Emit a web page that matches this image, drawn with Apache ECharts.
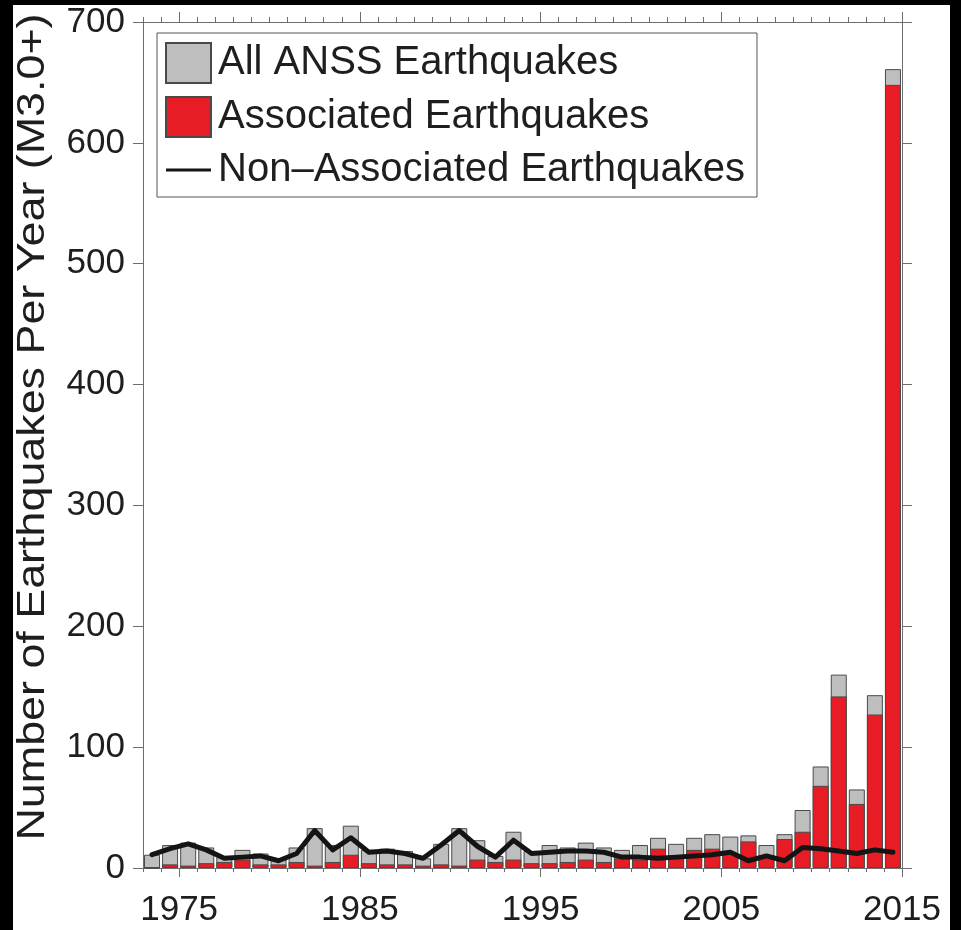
<!DOCTYPE html>
<html>
<head>
<meta charset="utf-8">
<script src="https://cdn.jsdelivr.net/npm/echarts@6/dist/echarts.min.js"></script>
<style>
  html, body { margin: 0; padding: 0; background: #000; }
  #chart { width: 961px; height: 930px; }
</style>
</head>
<body>
<div id="chart"></div>
<script>
// Yearly counts of M3.0+ earthquakes, 1973-2014 (one bar per calendar year)
const years = [1973, 1974, 1975, 1976, 1977, 1978, 1979, 1980, 1981, 1982,
               1983, 1984, 1985, 1986, 1987, 1988, 1989, 1990, 1991, 1992,
               1993, 1994, 1995, 1996, 1997, 1998, 1999, 2000, 2001, 2002,
               2003, 2004, 2005, 2006, 2007, 2008, 2009, 2010, 2011, 2012,
               2013, 2014];
const allEvents = [11, 19, 21, 17, 9, 15, 12, 7, 17, 33,
                   19, 35, 15, 16, 14, 8, 20, 33, 23, 10,
                   30, 14, 19, 17, 21, 17, 15, 19, 25, 20,
                   25, 28, 26, 27, 19, 28, 48, 84, 160, 65,
                   143, 661];
const associated = [0, 3, 2, 4, 5, 7, 3, 3, 5, 2,
                    5, 11, 4, 3, 3, 2, 3, 2, 7, 5,
                    7, 4, 4, 5, 7, 5, 8, 7, 16, 8,
                    15, 16, 12, 22, 10, 24, 30, 68, 142, 53,
                    127, 648];
const nonAssociated = [11, 16, 20, 15, 8, 9, 10, 6, 12, 31,
                       15, 25, 13, 14, 12, 8, 19, 31, 18, 9,
                       23, 12, 13, 14, 14, 13, 9, 9, 8, 9,
                       10, 11, 13, 6, 10, 6, 17, 16, 14, 12,
                       15, 13];
const xLabelYears = [1975, 1985, 1995, 2005, 2015];
const yMin = 0, yMax = 700, yStep = 100;
const xMin = 1973, xMax = 2015;

const FONT = '"Liberation Sans", Arial, Helvetica, sans-serif';
const AXIS_COLOR = '#6e6e6e';
const TEXT_COLOR = '#1e1e1e';
const LINE_COLOR = '#141414';

const chart = echarts.init(document.getElementById('chart'), null, { renderer: 'canvas' });

const gridBox = { left: 143, right: 59, top: 22, bottom: 62 };

// bars sit in the middle of each [year, year+1) bin
const toBin = (vals) => years.map((y, i) => [y + 0.5, vals[i]]);

// legend swatch for the line: a short horizontal stroke inside a 45x40 box
const lineSwatch = 'path://M0,0L45,0L45,0Z M0,18.5L45,18.5L45,21.5L0,21.5Z M0,40L45,40L45,40Z';

const option = {
  backgroundColor: '#000',
  animation: false,
  graphic: [
    { type: 'rect', silent: true, z: -100,
      shape: { x: 13, y: 5, width: 937, height: 925 },
      style: { fill: '#fff' } },
    { type: 'text', silent: true, x: 34, y: 427, rotation: Math.PI / 2, scaleX: 1.18,
      style: { text: 'Number of Earthquakes Per Year (M3.0+)', fontSize: 38,
               fontFamily: FONT, fill: TEXT_COLOR, align: 'center', verticalAlign: 'middle' } }
  ],
  grid: [
    Object.assign({ containLabel: false }, gridBox),
    Object.assign({ containLabel: false }, gridBox)
  ],
  legend: {
    orient: 'vertical',
    left: 157, top: 33,
    padding: [9, 12, 7, 8],
    itemWidth: 45, itemHeight: 40, itemGap: 12,
    backgroundColor: '#fff',
    borderColor: '#555', borderWidth: 1, borderRadius: 0,
    textStyle: { fontSize: 40, color: TEXT_COLOR, fontFamily: FONT, padding: [0, 0, 0, 2] },
    data: [
      { name: 'All ANSS Earthquakes', icon: 'rect' },
      { name: 'Associated Earthquakes', icon: 'rect' },
      { name: 'Non\u2013Associated Earthquakes', icon: lineSwatch,
        itemStyle: { color: LINE_COLOR, borderWidth: 0 } }
    ]
  },
  xAxis: [
    { // bottom: yearly ticks, decade labels
      type: 'value', gridIndex: 0, position: 'bottom', min: xMin, max: xMax, interval: 1,
      axisLine: { show: true, onZero: false, lineStyle: { color: AXIS_COLOR, width: 1 } },
      axisTick: { show: true, length: 4, lineStyle: { color: AXIS_COLOR, width: 1 } },
      axisLabel: { show: true, customValues: xLabelYears, margin: 25, fontSize: 35,
                   color: TEXT_COLOR, fontFamily: FONT, formatter: (v) => String(v) },
      splitLine: { show: false }
    },
    { // top: yearly ticks
      type: 'value', gridIndex: 0, position: 'top', min: xMin, max: xMax, interval: 1,
      axisLine: { show: true, onZero: false, lineStyle: { color: AXIS_COLOR, width: 1 } },
      axisTick: { show: true, length: 5, lineStyle: { color: AXIS_COLOR, width: 1 } },
      axisLabel: { show: false },
      splitLine: { show: false }
    },
    { // bottom: decade ticks
      type: 'value', gridIndex: 1, position: 'bottom', min: xMin, max: xMax,
      axisLine: { show: false, onZero: false },
      axisTick: { show: true, customValues: xLabelYears, length: 9,
                  lineStyle: { color: AXIS_COLOR, width: 1 } },
      axisLabel: { show: false },
      splitLine: { show: false }
    },
    { // top: decade ticks
      type: 'value', gridIndex: 1, position: 'top', min: xMin, max: xMax,
      axisLine: { show: false, onZero: false },
      axisTick: { show: true, customValues: xLabelYears, length: 10,
                  lineStyle: { color: AXIS_COLOR, width: 1 } },
      axisLabel: { show: false },
      splitLine: { show: false }
    }
  ],
  yAxis: [
    {
      type: 'value', gridIndex: 0, position: 'left', min: yMin, max: yMax, interval: yStep,
      axisLine: { show: true, lineStyle: { color: AXIS_COLOR, width: 1 } },
      axisTick: { show: true, length: 10, lineStyle: { color: AXIS_COLOR, width: 1 } },
      axisLabel: { margin: 18, fontSize: 35, color: TEXT_COLOR, fontFamily: FONT },
      splitLine: { show: false }
    },
    {
      type: 'value', gridIndex: 0, position: 'right', min: yMin, max: yMax, interval: yStep,
      axisLine: { show: true, lineStyle: { color: AXIS_COLOR, width: 1 } },
      axisTick: { show: true, length: 10, lineStyle: { color: AXIS_COLOR, width: 1 } },
      axisLabel: { show: false },
      splitLine: { show: false }
    },
    { type: 'value', gridIndex: 1, min: yMin, max: yMax, show: false }
  ],
  series: [
    {
      name: 'All ANSS Earthquakes', type: 'bar', xAxisIndex: 0, yAxisIndex: 0,
      barWidth: 16, barGap: '-100%',
      itemStyle: { color: '#bebebe', borderColor: '#4a4a4a', borderWidth: 1 },
      data: toBin(allEvents), z: 2
    },
    {
      name: 'Associated Earthquakes', type: 'bar', xAxisIndex: 0, yAxisIndex: 0,
      barWidth: 16, barGap: '-100%',
      itemStyle: { color: '#e81c24', borderColor: '#4a4a4a', borderWidth: 1 },
      data: toBin(associated), z: 3
    },
    {
      name: 'Non\u2013Associated Earthquakes', type: 'line', xAxisIndex: 0, yAxisIndex: 0,
      symbol: 'none', smooth: false,
      lineStyle: { color: LINE_COLOR, width: 5, join: 'round', cap: 'round' },
      itemStyle: { color: LINE_COLOR },
      data: toBin(nonAssociated), z: 5
    }
  ]
};

chart.setOption(option);
</script>
</body>
</html>
